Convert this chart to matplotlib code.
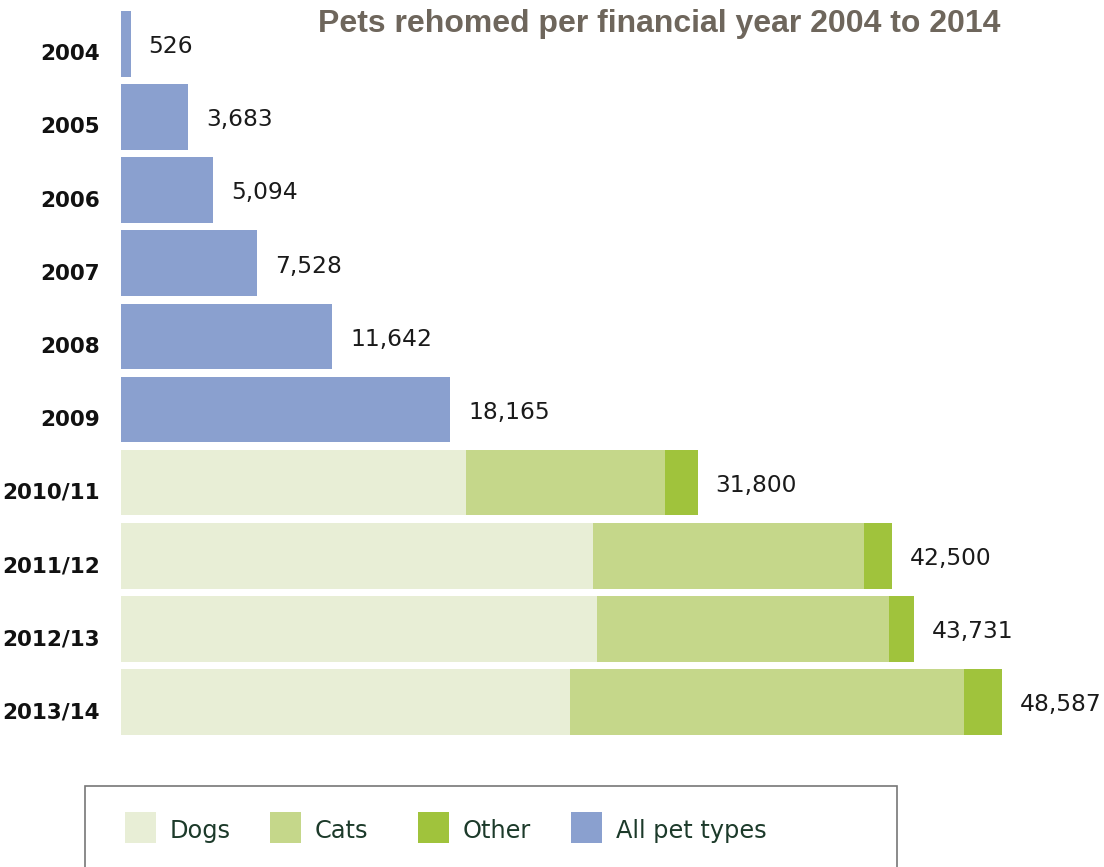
import matplotlib.pyplot as plt
import matplotlib.transforms as mtransforms
from matplotlib.patches import Rectangle

# data
years = ["2004", "2005", "2006", "2007", "2008", "2009",
         "2010/11", "2011/12", "2012/13", "2013/14"]
all_pets = [526, 3683, 5094, 7528, 11642, 18165, 0, 0, 0, 0]
dogs = [0, 0, 0, 0, 0, 0, 19030, 26030, 26250, 24770]
cats = [0, 0, 0, 0, 0, 0, 10975, 14950, 16110, 21730]
other = [0, 0, 0, 0, 0, 0, 1795, 1520, 1371, 2087]
totals = [526, 3683, 5094, 7528, 11642, 18165, 31800, 42500, 43731, 48587]

legend_labels = ["Dogs", "Cats", "Other", "All pet types"]
c_dogs = "#e8eed6"
c_cats = "#c5d78a"
c_other = "#a0c33c"
c_all = "#8aa0cf"
legend_colors = [c_dogs, c_cats, c_other, c_all]

W, H = 1104, 867
fig = plt.figure(figsize=(W / 100, H / 100), dpi=100)

# axes placed in pixel terms: x=0 at px 121, bars centred every ~73 px from y=44
ax = fig.add_axes([121 / W, (H - 760) / H, (W - 121) / W, 760 / H])
xmax = (W - 121) / 0.01813
ax.set_xlim(0, xmax)
ax.set_ylim((760 - 44) / 73.1, -44 / 73.1)

pos = list(range(len(years)))
h = 0.9
ax.barh(pos, all_pets, height=h, color=c_all, linewidth=0)
ax.barh(pos, dogs, height=h, color=c_dogs, linewidth=0)
left_cats = dogs
ax.barh(pos, cats, left=left_cats, height=h, color=c_cats, linewidth=0)
left_other = [d + c for d, c in zip(dogs, cats)]
ax.barh(pos, other, left=left_other, height=h, color=c_other, linewidth=0)

for p, t in zip(pos, totals):
    ax.annotate(f"{t:,}", xy=(t, p), xytext=(13, -2), textcoords="offset points",
                ha="left", va="center", fontsize=16.8, color="#1a1a1a",
                family="DejaVu Sans")

ax.set_yticks(pos)
ax.set_yticklabels(years, fontsize=15.5, fontweight="bold", color="#111111",
                   family="DejaVu Sans")
ax.tick_params(axis="y", length=0, pad=15)
offset = mtransforms.ScaledTranslation(0, -6 / 72, fig.dpi_scale_trans)
for lab in ax.get_yticklabels():
    lab.set_transform(lab.get_transform() + offset)
ax.set_xticks([])
for s in ax.spines.values():
    s.set_visible(False)

fig.text(1000 / W, 1 - 24 / H, "Pets rehomed per financial year 2004 to 2014",
         ha="right", va="center", fontsize=23, fontweight="bold", color="#6e665c",
         family=["Liberation Sans", "DejaVu Sans"])

# legend box
fig.patches.append(Rectangle((85 / W, -0.05), (897 - 85) / W, 0.05 + (H - 786) / H,
                             transform=fig.transFigure, facecolor="white",
                             edgecolor="#777777", linewidth=1.2))
lx = [125, 270, 418, 571]
for x0, lab, col in zip(lx, legend_labels, legend_colors):
    fig.patches.append(Rectangle((x0 / W, 1 - 843 / H), 31 / W, 31 / H,
                                 transform=fig.transFigure, facecolor=col,
                                 linewidth=0))
    fig.text((x0 + 45) / W, 1 - 831 / H, lab, ha="left", va="center",
             fontsize=17.3, color="#1c3a2a", family="DejaVu Sans")

fig.savefig("out.png", dpi=100)
